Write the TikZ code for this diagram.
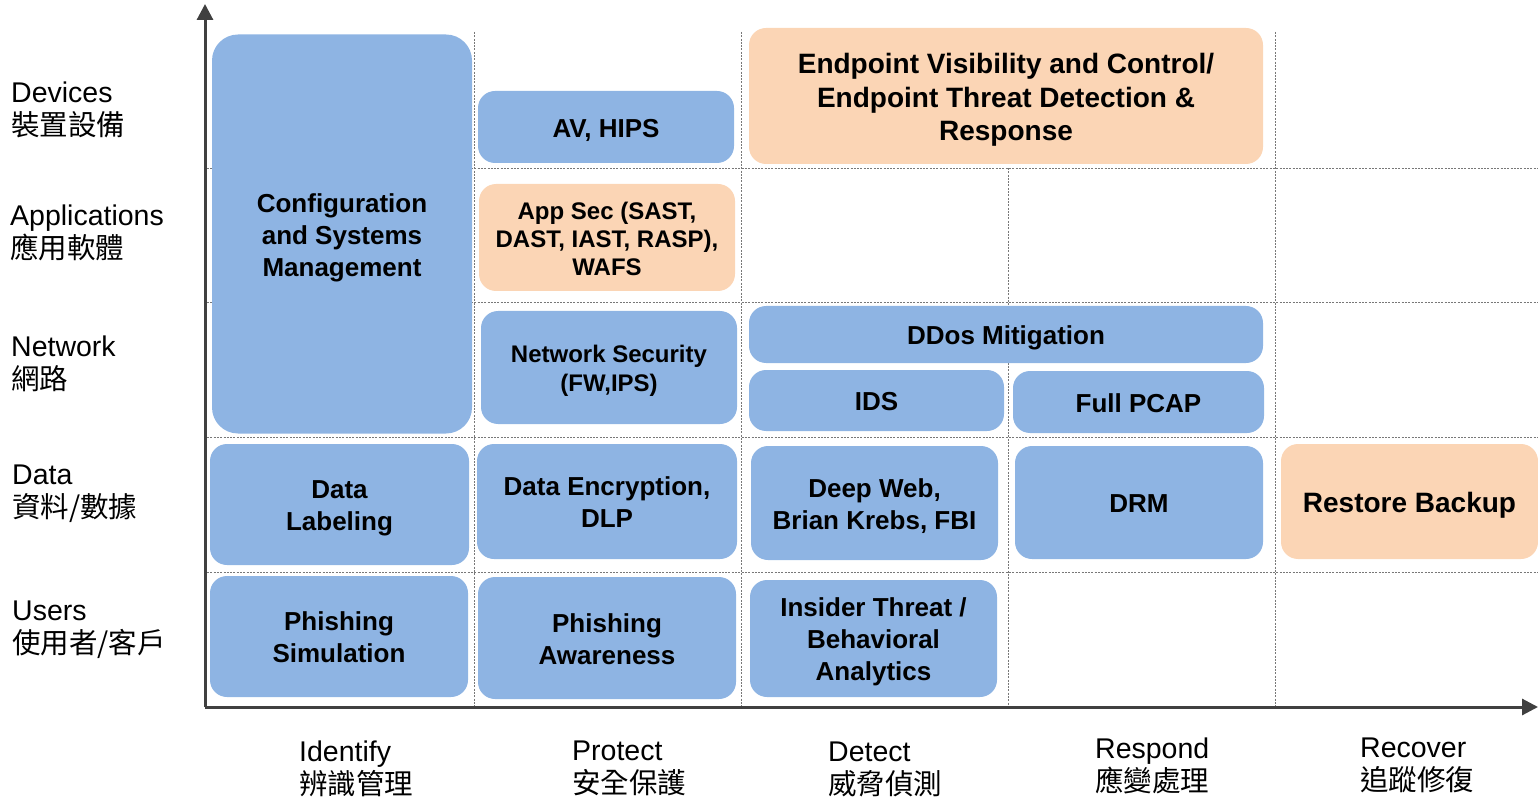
\documentclass[tikz,border=0pt]{standalone}
\usepackage{fontspec}
\setmainfont{Liberation Sans}
\newfontfamily\cjk{Noto Sans CJK TC}
\usetikzlibrary{arrows.meta}

\definecolor{cellblue}{RGB}{142,180,227}
\definecolor{cellorange}{RGB}{251,213,181}
\definecolor{gridgray}{RGB}{120,120,120}
\definecolor{axisgray}{RGB}{64,64,64}

% line struts giving each text block a full ascent/descent
\newcommand\topline{\rule{0pt}{1.02em}}
\newcommand\botline{\rule[-0.22em]{0pt}{0.22em}}

\tikzset{
  cell/.style={inner sep=0pt, rounded corners=17pt, align=center,
               font=\fontsize{26}{32}\selectfont\bfseries, text=black},
  bluecell/.style={cell, fill=cellblue},
  orangecell/.style={cell, fill=cellorange},
  % centre x, centre y, width, height
  place/.style n args={4}{at={(#1,#2)}, minimum width=#3pt, minimum height=#4pt},
  gridline/.style={draw=gridgray, line width=0.9pt, dash pattern=on 2pt off 1.3pt},
  axisline/.style={draw=axisgray, line width=3pt, -{Triangle[length=16pt,width=16pt]}},
  axislabel/.style={anchor=west, align=left, inner sep=0pt,
                    font=\fontsize{28.5}{33}\selectfont},
}

\begin{document}
\begin{tikzpicture}[x=1pt, y=-1pt]
\useasboundingbox (0,0) rectangle (1538,799);

% dashed matrix grid
\foreach \gx/\gtop in {474/32, 741/32, 1008/168, 1275/32}
  \draw[gridline] (\gx,\gtop) -- (\gx,707);
\foreach \gy in {168, 302, 437, 572}
  \draw[gridline] (207,\gy) -- (1538,\gy);

% axes
\coordinate (origin) at (205,707);
\coordinate (ytip) at (205,4);
\coordinate (xtip) at (1538,707);
\draw[axisline] (origin) -- (ytip);
\draw[axisline] (origin) -- (xtip);

% Identify column
\node[bluecell, rounded corners=26pt, place={342}{234}{260}{399}] (cfg)
  {\topline Configuration\\and Systems\\Management\botline};
\node[bluecell, place={339.5}{504.5}{259}{121}] (label) {\topline Data\\Labeling\botline};
\node[bluecell, place={339}{636.5}{258}{121}] (phsim) {\topline Phishing\\Simulation\botline};

% Protect column
\node[bluecell, place={606}{127}{256}{72}] (av) {\topline AV, HIPS\botline};
\node[orangecell, font=\fontsize{24}{28}\selectfont\bfseries, place={607}{237.5}{256}{107}] (appsec)
  {\topline App Sec (SAST,\\DAST, IAST, RASP),\\WAFS\botline};
\node[bluecell, font=\fontsize{24}{29}\selectfont\bfseries, place={609}{367.5}{256}{113}] (netsec)
  {\topline Network Security\\(FW,IPS)\botline};
\node[bluecell, place={607}{501.5}{260}{115}] (enc) {\topline Data Encryption,\\DLP\botline};
\node[bluecell, place={607}{638}{258}{122}] (pharw) {\topline Phishing\\Awareness\botline};

% Detect / Respond columns
\node[orangecell, font=\fontsize{28}{33.5}\selectfont\bfseries, place={1006}{96}{514}{136}] (edr)
  {\topline Endpoint Visibility and Control/\\Endpoint Threat Detection \&\\Response\botline};
\node[bluecell, place={1006}{334.5}{514}{57}] (ddos) {\topline DDos Mitigation\botline};
\node[bluecell, place={876.5}{400.5}{255}{61}] (ids) {\topline IDS\botline};
\node[bluecell, place={1138.5}{402}{251}{62}] (pcap) {\topline Full PCAP\botline};
\node[bluecell, place={874.5}{503}{247}{114}] (deepweb) {\topline Deep Web,\\Brian Krebs, FBI\botline};
\node[bluecell, place={1139}{502.5}{248}{113}] (drm) {\topline DRM\botline};
\node[bluecell, place={873.5}{638.5}{247}{117}] (insider)
  {\topline Insider Threat /\\Behavioral\\Analytics\botline};

% Recover column
\node[orangecell, font=\fontsize{28}{33}\selectfont\bfseries, place={1409.5}{501.5}{257}{115}] (restore)
  {\topline Restore Backup\botline};

% row labels
\node[axislabel] (rdev)  at (11,110) {Devices\\{\cjk 裝置設備}};
\node[axislabel] (rapp)  at (10,232.5) {Applications\\{\cjk 應用軟體}};
\node[axislabel] (rnet)  at (11,363.5) {Network\\{\cjk 網路}};
\node[axislabel] (rdata) at (12,494) {Data\\{\cjk 資料/數據}};
\node[axislabel] (rusr)  at (12,629.5) {Users\\{\cjk 使用者/客戶}};

% column labels
\node[axislabel] (cid)  at (299,768.5)  {Identify\\{\cjk 辨識管理}};
\node[axislabel] (cpr)  at (572,768.5)  {Protect\\{\cjk 安全保護}};
\node[axislabel] (cdt)  at (828,769.5)  {Detect\\{\cjk 威脅偵測}};
\node[axislabel] (crs)  at (1095,766) {Respond\\{\cjk 應變處理}};
\node[axislabel] (crc)  at (1360,765.5) {Recover\\{\cjk 追蹤修復}};
\end{tikzpicture}
\end{document}
